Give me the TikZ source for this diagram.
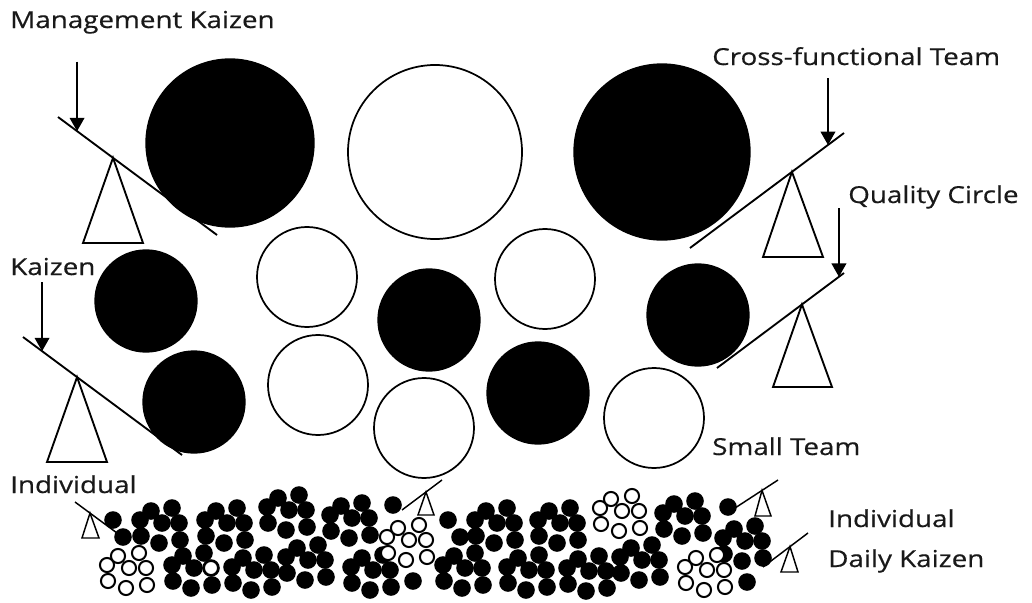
\documentclass[tikz,border=0pt]{standalone}
\usepackage{fontspec}
\setmainfont{Open Sans}[FakeStretch=1.19,FakeBold=0.5]
\usetikzlibrary{arrows.meta,calc}
\newcommand\bmotif[2]{\foreach \dx/\dy in {0/0,11/-9,32/-12,22/3,39/3,1/16,19/23,40/20}{\fill[black] ({#1+\dx},{#2+\dy}) circle[radius=6.6pt];}}
\newcommand\wmotif[2]{\foreach \dx/\dy in {0/0,11/-9,32/-12,22/3,39/3,1/16,19/23,40/20}{\draw[wdot] ({#1+\dx},{#2+\dy}) circle[radius=5.3pt];}}
\newcommand\bdot[2]{\fill[black] (#1,#2) circle[radius=6.6pt];}
\begin{document}
\begin{tikzpicture}[x=0.75pt,y=-0.75pt,
  bigblack/.style={circle,inner sep=0pt,fill=black,draw=black,line width=1pt},
  bigwhite/.style={circle,inner sep=0pt,fill=white,draw=black,line width=1.3pt},
  wdot/.style={fill=white,draw=black,line width=1.5pt},
  lever/.style={draw=black,line width=1.4pt},
  fulcrum/.style={draw=black,fill=white,line width=1.4pt,line join=miter},
  arr/.style={draw=black,line width=1.3pt,-{Triangle[width=11pt,length=10pt]}},
  lbl/.style={anchor=base west,inner sep=0pt,font=\fontsize{17.5pt}{21pt}\selectfont,text=black!90}
]
\path[fill=white] (0,0) rectangle (1032,603);
\useasboundingbox (0,0) rectangle (1032,603);

% large circles
\node[bigblack,minimum size=126pt] (c1) at (230,143) {};
\node[bigwhite,minimum size=130.5pt] (c2) at (435,152) {};
\node[bigblack,minimum size=132pt] (c3) at (662,152) {};
% medium circles
\node[bigblack,minimum size=76.5pt] (m1) at (146,301) {};
\node[bigblack,minimum size=76.5pt] (m2) at (194,402) {};
\node[bigwhite,minimum size=75pt] (m3) at (307,277) {};
\node[bigwhite,minimum size=75pt] (m4) at (318,385) {};
\node[bigblack,minimum size=76.5pt] (m5) at (429,320) {};
\node[bigwhite,minimum size=75pt] (m6) at (424,428) {};
\node[bigwhite,minimum size=75pt] (m7) at (545,279) {};
\node[bigblack,minimum size=76.5pt] (m8) at (538,393) {};
\node[bigwhite,minimum size=75pt] (m9) at (654,418) {};
\node[bigblack,minimum size=76.5pt] (m10) at (698,315) {};

% small dots
\bmotif{140}{520}\bmotif{205}{520}\bmotif{267}{507}\bmotif{330}{515}
\bmotif{475}{520}\bmotif{538}{520}\bmotif{663}{513}\bmotif{723}{538}
\bmotif{172}{565}\bmotif{232}{567}\bmotif{286}{557}\bmotif{351}{567}
\bmotif{443}{565}\bmotif{507}{567}\bmotif{567}{568}\bmotif{620}{557}
\bdot{113}{520}\bdot{123}{537}\bdot{448}{520}\bdot{460}{537}
\bdot{393}{505}\bdot{728}{507}\bdot{413}{581}\bdot{747}{582}
\wmotif{387}{537}\wmotif{600}{508}\wmotif{107}{565}\wmotif{685}{567}
\draw[wdot] (211,568) circle[radius=5.3pt];

% Management Kaizen lever
\coordinate (a1) at (58,117); \coordinate (b1) at (217,235);
\draw[lever] (a1) -- (b1);
\coordinate (p1) at ($(a1)!0.346!(b1)$);
\draw[fulcrum] (p1) -- (83,243) -- (143,243) -- cycle;
% Kaizen lever
\coordinate (a2) at (23,337); \coordinate (b2) at (182,455);
\draw[lever] (a2) -- (b2);
\coordinate (p2) at ($(a2)!0.34!(b2)$);
\draw[fulcrum] (p2) -- (47,462) -- (107,462) -- cycle;
% Cross-functional lever
\coordinate (a3) at (690,248); \coordinate (b3) at (844,133);
\draw[lever] (a3) -- (b3);
\coordinate (p3) at ($(a3)!0.662!(b3)$);
\draw[fulcrum] (p3) -- (763,257) -- (823,257) -- cycle;
% Quality circle lever
\coordinate (a4) at (717,368); \coordinate (b4) at (844,273);
\draw[lever] (a4) -- (b4);
\coordinate (p4) at ($(a4)!0.669!(b4)$);
\draw[fulcrum] (p4) -- (773,387) -- (832,387) -- cycle;
% small levers
\coordinate (a5) at (75,502); \coordinate (b5) at (117,533);
\draw[lever,line width=1.1pt] (a5) -- (b5);
\coordinate (p5) at ($(a5)!0.357!(b5)$);
\draw[fulcrum,line width=1.1pt] (p5) -- (82,538) -- (99,538) -- cycle;
\coordinate (a6) at (402,510); \coordinate (b6) at (442,480);
\draw[lever,line width=1.1pt] (a6) -- (b6);
\coordinate (p6) at ($(a6)!0.6!(b6)$);
\draw[fulcrum,line width=1.1pt] (p6) -- (418,515) -- (434,515) -- cycle;
\coordinate (a7) at (735,508); \coordinate (b7) at (778,480);
\draw[lever,line width=1.1pt] (a7) -- (b7);
\coordinate (p7) at ($(a7)!0.628!(b7)$);
\draw[fulcrum,line width=1.1pt] (p7) -- (755,516) -- (771,516) -- cycle;
\coordinate (a8) at (763,567); \coordinate (b8) at (808,533);
\draw[lever,line width=1.1pt] (a8) -- (b8);
\coordinate (p8) at ($(a8)!0.6!(b8)$);
\draw[fulcrum,line width=1.1pt] (p8) -- (781,572) -- (798,572) -- cycle;

% arrows
\coordinate (s1) at (77,62);  \coordinate (t1) at ($(a1)!0.12!(b1)$);
\draw[arr] (s1) -- (t1);
\coordinate (s2) at (42,282); \coordinate (t2) at ($(a2)!0.12!(b2)$);
\draw[arr] (s2) -- (t2);
\coordinate (s3) at (828,78); \coordinate (t3) at ($(a3)!0.896!(b3)$);
\draw[arr] (s3) -- (t3);
\coordinate (s4) at (839,208); \coordinate (t4) at ($(a4)!0.96!(b4)$);
\draw[arr] (s4) -- (t4);

% labels
\node[lbl] (l1) at (10,28) {Management Kaizen};
\node[lbl] (l2) at (10,275) {Kaizen};
\node[lbl] (l3) at (712,65) {Cross-functional Team};
\node[lbl] (l4) at (848,203) {Quality Circle};
\node[lbl] (l5) at (712,455) {Small Team};
\node[lbl] (l6) at (10,493) {Individual};
\node[lbl] (l7) at (828,527) {Individual};
\node[lbl] (l8) at (828,567) {Daily Kaizen};
\end{tikzpicture}
\end{document}
